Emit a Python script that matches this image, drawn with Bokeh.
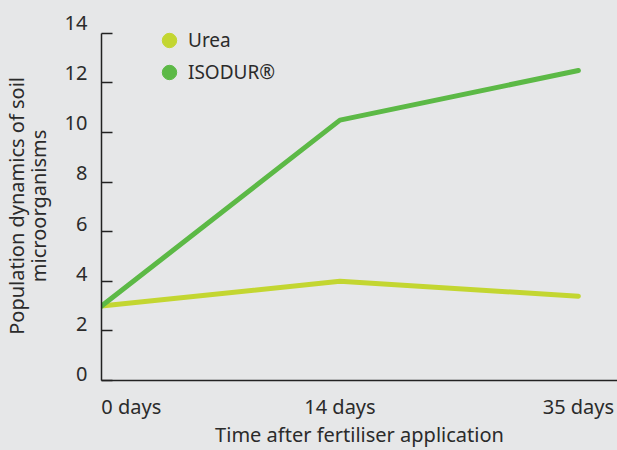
from bokeh.plotting import figure
from bokeh.models import Range1d, Legend, LegendItem, FixedTicker, LinearAxis
from bokeh.embed import file_html
from bokeh.resources import INLINE

# ---- data ----
days = ["0 days", "14 days", "35 days"]
urea = [3.0, 4.0, 3.4]
isodur = [3.0, 10.5, 12.5]
series_names = ["Urea", "ISODUR®"]
y_ticks = [0, 2, 4, 6, 8, 10, 12, 14]
y_title_lines = ["Population dynamics of soil", "microorganisms"]
x_title = "Time after fertiliser application"

# ---- style ----
FONT = "Noto Sans"
TEXT = "#2b2b2b"
AXIS = "#222222"
BG = "#e6e7e8"
COLORS = ["#c3d631", "#5cb946"]
LABEL0_SHIFT = 0.125        # first x label is left-aligned at the axis
TITLE_PAD = "\u00a0" * 4    # nudges the rotated y title down a little

x_idx = list(range(len(days)))

p = figure(width=617, height=450,
           x_range=Range1d(0, 2.164), y_range=Range1d(0, 14.92),
           output_backend="svg", toolbar_location=None,
           min_border_left=96, min_border_right=0,
           min_border_top=10, min_border_bottom=70)
p.extra_y_ranges = {"labels": Range1d(-0.26, 14.5)}

p.background_fill_color = BG
p.border_fill_color = BG
p.outline_line_color = None
p.xgrid.visible = False
p.ygrid.visible = False

# y axis: line + inward ticks
ya = p.yaxis[0]
ya.ticker = FixedTicker(ticks=y_ticks)
ya.bounds = (y_ticks[0], y_ticks[-1])
ya.major_tick_in = 11
ya.major_tick_out = 0
ya.minor_tick_line_color = None
ya.axis_line_color = AXIS
ya.axis_line_width = 1.5
ya.major_tick_line_color = AXIS
ya.major_tick_line_width = 1.5
ya.major_label_overrides = {t: "" for t in y_ticks}
ya.major_label_standoff = 0

# y axis labels (slightly raised, as in the original)
yl = LinearAxis(y_range_name="labels", ticker=FixedTicker(ticks=y_ticks))
yl.axis_line_color = None
yl.major_tick_line_color = None
yl.minor_tick_line_color = None
yl.major_tick_in = 0
yl.major_tick_out = 0
yl.major_label_text_font = FONT
yl.major_label_text_font_size = "20px"
yl.major_label_text_color = TEXT
yl.major_label_standoff = 14
yl.axis_label = "\n".join(line + TITLE_PAD for line in y_title_lines)
yl.axis_label_text_font = FONT
yl.axis_label_text_font_size = "20px"
yl.axis_label_text_font_style = "normal"
yl.axis_label_text_color = TEXT
yl.axis_label_text_line_height = 0.8
yl.axis_label_standoff = 10
p.add_layout(yl, "left")

# x axis
x_label_pos = [x_idx[0] + LABEL0_SHIFT] + x_idx[1:]
xa = p.xaxis[0]
xa.ticker = FixedTicker(ticks=x_label_pos)
xa.major_label_overrides = {pos: d for pos, d in zip(x_label_pos, days)}
xa.major_tick_in = 0
xa.major_tick_out = 0
xa.minor_tick_line_color = None
xa.axis_line_color = AXIS
xa.axis_line_width = 1.5
xa.major_label_text_font = FONT
xa.major_label_text_font_size = "20px"
xa.major_label_text_color = TEXT
xa.major_label_standoff = 12
xa.axis_label = x_title
xa.axis_label_text_font = FONT
xa.axis_label_text_font_size = "20px"
xa.axis_label_text_font_style = "normal"
xa.axis_label_text_color = TEXT
xa.axis_label_standoff = -2

# lines
p.line(x_idx, urea, line_width=5, line_color=COLORS[0], line_cap="round", line_join="round")
p.line(x_idx, isodur, line_width=5, line_color=COLORS[1], line_cap="round", line_join="round")

# legend markers (zero-size points; the legend draws its own circle)
r_u = p.scatter(x_idx, urea, size=0, color=COLORS[0])
r_i = p.scatter(x_idx, isodur, size=0, color=COLORS[1])

for renderer, name, loc in [(r_u, series_names[0], (50, 322)),
                            (r_i, series_names[1], (50, 290))]:
    p.add_layout(Legend(items=[LegendItem(label=name, renderers=[renderer])],
                        location=loc, glyph_width=36, glyph_height=36,
                        spacing=0, padding=0, margin=0, label_standoff=1,
                        border_line_alpha=0, background_fill_alpha=0,
                        label_text_font=FONT, label_text_font_size="19px",
                        label_text_color=TEXT))

html = file_html(p, INLINE)
html = html.replace("<head>", "<head><style>body{background:#e6e7e8;}</style>", 1)
open("out.html", "w").write(html)
